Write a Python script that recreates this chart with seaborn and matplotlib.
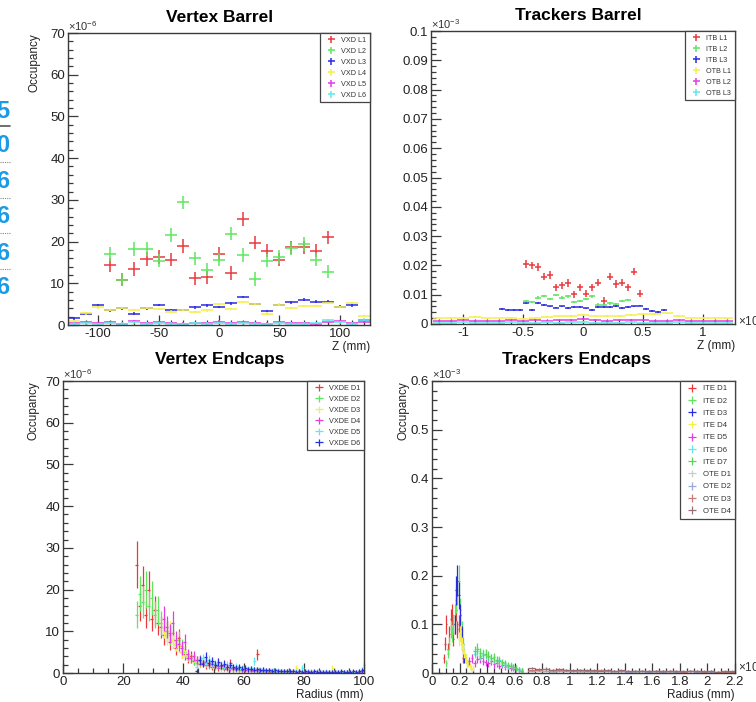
import numpy as np
import pandas as pd
import matplotlib
matplotlib.use("Agg")
import matplotlib.pyplot as plt
from matplotlib.lines import Line2D
from matplotlib.ticker import MultipleLocator, FuncFormatter
import seaborn as sns

# ---------------- Vertex barrel: occupancy (x1e-6) vs z (mm) ----------------
vxd_z_inner = [-90, -80, -70, -60, -50, -40, -30, -20, -10, 0, 10, 20, 30, 40, 50, 60, 70, 80, 90]
vxd_z_outer = [-120, -110, -100, -90, -80, -70, -60, -50, -40, -30, -20, -10, 0,
               10, 20, 30, 40, 50, 60, 70, 80, 90, 100, 110, 120]
vxd_l1 = [14.4, 10.9, 13.4, 15.8, 16.3, 15.7, 18.9, 11.2, 11.4, 17.0,
          12.5, 25.4, 19.7, 17.8, 15.7, 18.6, 18.6, 17.8, 21.0]
vxd_l2 = [17.0, 10.9, 18.2, 18.2, 15.4, 21.6, 29.4, 16.0, 13.3, 15.7,
          21.9, 16.8, 11.0, 15.4, 16.3, 18.4, 19.4, 15.7, 12.8]
vxd_l3 = [1.6, 2.7, 4.8, 3.5, 4.0, 2.7, 4.0, 4.8, 3.6, 3.6, 4.2, 4.7, 4.3,
          5.2, 6.7, 5.0, 3.3, 4.8, 5.4, 6.1, 5.6, 5.6, 4.4, 4.7, 1.2]
vxd_l4 = [0.9, 2.8, 4.2, 3.6, 4.1, 3.6, 4.1, 3.8, 3.2, 3.6, 3.1, 3.5, 5.0,
          3.8, 5.5, 5.0, 2.7, 4.9, 4.1, 4.6, 4.6, 5.3, 4.3, 5.3, 2.2]
vxd_l5 = [0.5, 0.6, 0.4, 0.7, 0.3, 0.9, 0.4, 0.6, 0.5, 0.3, 0.5, 0.4, 0.8,
          0.5, 0.7, 0.4, 0.3, 0.6, 0.5, 0.4, 0.3, 0.7, 0.9, 0.4, 0.8]
vxd_l6 = [0.3, 0.4, 0.2, 0.5, 0.3, 0.6, 0.3, 0.4, 0.3, 0.2, 0.4, 0.3, 0.5,
          0.3, 0.4, 0.3, 0.2, 0.4, 0.3, 0.3, 0.5, 1.1, 0.6, 0.3, 1.3]
vxd_labels = ["VXD L1", "VXD L2", "VXD L3", "VXD L4", "VXD L5", "VXD L6"]

# ---------------- Trackers barrel: occupancy (x1e-3) vs z (x1e3 mm) ----------------
itb_z_l1 = [-0.475, -0.425, -0.375, -0.325, -0.275, -0.225, -0.175, -0.125, -0.075, -0.025,
            0.025, 0.075, 0.125, 0.175, 0.225, 0.275, 0.325, 0.375, 0.425, 0.475]
itb_l1 = [0.0205, 0.0200, 0.0195, 0.0162, 0.0167, 0.0125, 0.0132, 0.0139, 0.0101, 0.0125,
          0.0104, 0.0125, 0.0141, 0.0078, 0.0162, 0.0136, 0.0141, 0.0125, 0.0179, 0.0104]
itb_z_l2 = [-0.475, -0.425, -0.375, -0.325, -0.275, -0.225, -0.175, -0.125, -0.075,
            -0.025, 0.025, 0.075, 0.125, 0.175, 0.225, 0.275, 0.325, 0.375]
itb_l2 = [0.0077, 0.0076, 0.0090, 0.0095, 0.0085, 0.0100, 0.0090, 0.0094, 0.0074,
          0.0078, 0.0086, 0.0094, 0.0066, 0.0064, 0.0070, 0.0068, 0.0078, 0.0081]
itb_z_l3 = [-0.675, -0.625, -0.575, -0.525, -0.475, -0.425, -0.375, -0.325, -0.275, -0.225,
            -0.175, -0.125, -0.075, -0.025, 0.025, 0.075, 0.125, 0.175, 0.225, 0.275,
            0.325, 0.375, 0.425, 0.475, 0.525, 0.575, 0.625, 0.675]
itb_l3 = [0.0050, 0.0049, 0.0048, 0.0047, 0.0070, 0.0047, 0.0072, 0.0066, 0.0060, 0.0056,
          0.0060, 0.0055, 0.0057, 0.0058, 0.0053, 0.0048, 0.0057, 0.0058, 0.0057, 0.0061,
          0.0055, 0.0058, 0.0060, 0.0063, 0.0050, 0.0045, 0.0042, 0.0048]
otb_z = [-1.2, -1.1, -1.0, -0.9, -0.8, -0.7, -0.6, -0.5, -0.4, -0.3, -0.2, -0.1, 0.0,
         0.1, 0.2, 0.3, 0.4, 0.5, 0.6, 0.7, 0.8, 0.9, 1.0, 1.1, 1.2]
otb_l1 = [0.0022, 0.0020, 0.0021, 0.0023, 0.0019, 0.0022, 0.0021, 0.0016, 0.0021, 0.0025,
          0.0026, 0.0027, 0.0030, 0.0029, 0.0027, 0.0028, 0.0030, 0.0033, 0.0034, 0.0036,
          0.0026, 0.0022, 0.0021, 0.0020, 0.0019]
otb_l2 = [0.0011, 0.0010, 0.0012, 0.0009, 0.0011, 0.0010, 0.0012, 0.0011, 0.0013, 0.0010,
          0.0012, 0.0014, 0.0016, 0.0013, 0.0011, 0.0012, 0.0013, 0.0012, 0.0011, 0.0010,
          0.0012, 0.0011, 0.0009, 0.0010, 0.0011]
otb_l3 = [0.0005, 0.0004, 0.0006, 0.0005, 0.0004, 0.0005, 0.0006, 0.0005, 0.0004, 0.0006,
          0.0005, 0.0007, 0.0006, 0.0005, 0.0004, 0.0005, 0.0006, 0.0005, 0.0004, 0.0005,
          0.0006, 0.0005, 0.0004, 0.0005, 0.0004]
tb_labels = ["ITB L1", "ITB L2", "ITB L3", "OTB L1", "OTB L2", "OTB L3"]

# ---------------- Vertex endcaps: occupancy (x1e-6) vs radius (mm), 1 mm bins ----------------
vxde_start = [24.0, 24.0, 33.0, 33.0, 44.0, 44.0]   # lower edge of the first filled bin
vxde_d1 = [26, 16, 21, 14, 20, 13, 15, 12, 11, 9, 10, 7.5, 8, 6, 8.5, 5, 4.5, 3.5, 4, 2.8,
           3, 2.2, 2.5, 1.8, 2.2, 1.5, 1.7, 1.2, 1.5, 1.0, 1.2, 2.4, 0.9, 1.0, 0.7, 0.8,
           0.6, 0.7, 0.5, 0.6, 4.5, 0.5, 0.4, 0.5, 0.3, 0.4]
vxde_d2 = [14, 19, 17, 20, 16, 18, 14, 15, 12, 11, 10, 9, 9.5, 7, 8, 6.5, 5, 4, 3.5, 3,
           2.5, 2.8, 2.2, 2.4, 1.8, 2.0, 1.5, 1.6, 1.2, 1.4, 1.1, 1.0, 1.2, 0.9, 0.8, 1.0,
           0.7, 0.8, 0.6, 0.7, 0.5, 0.6, 0.5, 0.4, 0.5, 0.4, 0.3, 0.4, 0.3, 0.35, 0.3]
vxde_d3 = [11, 9, 10, 8, 7, 6.5, 5, 5.5, 4, 3.5, 3.8, 3, 2.6, 2.8, 2.2, 2.4, 2.0, 1.8, 1.9,
           1.5, 1.6, 1.3, 1.4, 1.1, 1.2, 1.0, 1.1, 0.9, 0.8, 0.9, 0.7, 0.8, 0.6, 0.7, 0.5,
           0.6, 0.5, 0.6, 0.4, 0.5, 0.4, 0.5, 0.4, 0.4, 1.2, 0.4, 0.3, 0.4, 0.3, 0.4, 0.3,
           0.3, 0.4, 0.3, 0.3, 0.3, 1.3, 0.3, 0.3, 0.2, 0.3, 0.3, 0.2, 0.3, 0.2, 0.3, 0.5]
vxde_d4 = [13, 11, 9.5, 12, 8, 7, 6, 7.5, 4.5, 3.5, 4, 3, 3.2, 2.5, 2.7, 2.0, 2.2, 1.8, 1.6,
           1.7, 1.3, 1.5, 1.2, 1.1, 1.0, 1.1, 0.9, 0.8, 0.9, 0.7, 0.8, 0.6, 0.7, 0.6, 0.5,
           0.6, 0.5, 0.4, 0.5, 0.4, 0.5, 0.4, 0.3, 0.4, 0.3, 0.4, 0.3, 0.3, 0.4, 0.3, 0.3,
           0.2, 0.3, 0.3, 0.2, 0.3, 0.3, 0.2, 0.3, 0.2, 0.3, 0.2, 0.3, 0.2, 0.3, 0.2, 0.4]
vxde_d5 = [1.5, 3.0, 3.5, 2.8, 3.2, 2.6, 2.2, 2.5, 2.0, 1.8, 2.0, 1.6, 1.5, 1.6, 1.3, 1.2,
           1.3, 1.0, 1.1, 2.8, 0.9, 0.8, 0.9, 0.7, 0.6, 0.7, 0.5, 0.6, 0.5, 0.5, 0.4, 0.5,
           0.4, 0.4, 0.5, 1.2, 0.4, 0.3, 0.4, 0.3, 0.4, 0.3, 0.3, 0.4, 0.3, 0.3, 0.4, 0.3,
           0.2, 0.3, 0.3, 0.2, 0.3, 0.3, 0.4, 0.8]
vxde_d6 = [0.5, 3.0, 2.2, 3.8, 2.5, 2.9, 2.0, 2.6, 1.8, 2.2, 1.5, 1.9, 1.4, 1.2, 1.5, 1.0,
           1.2, 0.9, 1.0, 0.8, 0.9, 0.7, 0.8, 0.6, 0.7, 0.5, 0.6, 0.5, 0.4, 0.5, 0.4, 0.5,
           0.4, 0.3, 0.4, 0.3, 0.4, 0.3, 0.3, 0.4, 0.3, 0.3, 0.2, 0.3, 0.3, 0.2, 0.3, 0.3,
           0.4, 0.3, 0.2, 0.3, 0.4, 0.3, 0.5, 0.6]
vxde_labels = ["VXDE D1", "VXDE D2", "VXDE D3", "VXDE D4", "VXDE D5", "VXDE D6"]

# ---------------- Trackers endcaps: occupancy (x1e-3) vs radius (x1e3 mm) ----------------
ite_start = [0.08, 0.10, 0.16, 0.19, 0.26, 0.30, 0.30]
ite_bin = [0.01, 0.01, 0.01, 0.01, 0.02, 0.02, 0.02]
ite_d1 = [0.03, 0.06, 0.10, 0.05, 0.08, 0.11, 0.12, 0.07, 0.10, 0.13, 0.09, 0.10, 0.09, 0.06, 0.03]
ite_d2 = [0.02, 0.04, 0.06, 0.09, 0.08, 0.10, 0.12, 0.15, 0.17, 0.19, 0.13, 0.09, 0.06, 0.04, 0.03, 0.02]
ite_d3 = [0.10, 0.17, 0.19, 0.16, 0.12, 0.08, 0.05, 0.03]
ite_d4 = [0.07, 0.08, 0.06, 0.05, 0.04, 0.03, 0.02, 0.02, 0.015, 0.01, 0.01]
ite_d5 = [0.025, 0.030, 0.020, 0.028, 0.030, 0.025, 0.022, 0.020, 0.024, 0.018,
          0.020, 0.015, 0.017, 0.012, 0.014, 0.010, 0.009, 0.008, 0.006, 0.004]
ite_d6 = [0.040, 0.045, 0.035, 0.040, 0.038, 0.033, 0.030, 0.028, 0.025, 0.027,
          0.020, 0.018, 0.015, 0.016, 0.012, 0.010, 0.007, 0.005]
ite_d7 = [0.045, 0.050, 0.042, 0.038, 0.040, 0.035, 0.030, 0.032, 0.027, 0.025,
          0.022, 0.020, 0.017, 0.015, 0.012, 0.010, 0.008, 0.005]
ote_start = 0.70
ote_bin = 0.05
ote_d1 = [0.004, 0.005, 0.004, 0.003, 0.004, 0.005, 0.004, 0.003, 0.004, 0.003,
          0.004, 0.004, 0.003, 0.004, 0.003, 0.003, 0.004, 0.003, 0.003, 0.004,
          0.003, 0.003, 0.003, 0.004, 0.003, 0.003, 0.003, 0.002, 0.003, 0.003]
ote_d2 = [0.005, 0.006, 0.005, 0.004, 0.005, 0.005, 0.004, 0.005, 0.004, 0.004,
          0.005, 0.004, 0.004, 0.004, 0.003, 0.004, 0.004, 0.003, 0.004, 0.003,
          0.004, 0.003, 0.003, 0.004, 0.003, 0.003, 0.003, 0.003, 0.003, 0.003]
ote_d3 = [0.007, 0.006, 0.008, 0.006, 0.006, 0.007, 0.005, 0.006, 0.005, 0.005,
          0.006, 0.005, 0.005, 0.004, 0.005, 0.004, 0.005, 0.004, 0.004, 0.004,
          0.004, 0.004, 0.003, 0.004, 0.004, 0.003, 0.004, 0.003, 0.003, 0.003]
ote_d4 = [0.010, 0.008, 0.009, 0.007, 0.008, 0.007, 0.006, 0.007, 0.006, 0.006,
          0.005, 0.006, 0.005, 0.006, 0.005, 0.005, 0.005, 0.004, 0.005, 0.004,
          0.005, 0.004, 0.004, 0.005, 0.004, 0.004, 0.004, 0.003, 0.004, 0.004]
te_labels = ["ITE D1", "ITE D2", "ITE D3", "ITE D4", "ITE D5", "ITE D6", "ITE D7",
             "OTE D1", "OTE D2", "OTE D3", "OTE D4"]

# ROOT-like colour indices 2..7 and a few extras
root_cols = ["#e8383c", "#5ee65e", "#2a2ae0", "#f5ef4a", "#e23ce2", "#5fe8ee"]
ote_cols = ["#c6cec8", "#98a8d8", "#c97a7a", "#9c6f78"]
ite7_col = "#59d454"

sns.set_theme(style="ticks")
plt.rcParams["font.family"] = ["Liberation Sans", "DejaVu Sans"]
plt.rcParams["mathtext.default"] = "regular"
plt.rcParams["axes.unicode_minus"] = False

W, H = 756, 702
fig = plt.figure(figsize=(W / 100, H / 100), dpi=100)
fig.patch.set_facecolor("white")


def rect(l, t, r, b):
    return [l / W, 1 - b / H, (r - l) / W, (b - t) / H]


def style_axes(ax, xlim, ylim, xmaj, xmin, ymaj, ymin):
    ax.set_xlim(*xlim)
    ax.set_ylim(*ylim)
    ax.xaxis.set_major_locator(MultipleLocator(xmaj))
    ax.xaxis.set_minor_locator(MultipleLocator(xmin))
    ax.yaxis.set_major_locator(MultipleLocator(ymaj))
    ax.yaxis.set_minor_locator(MultipleLocator(ymin))
    f = FuncFormatter(lambda v, p: ("%g" % round(v, 6)))
    ax.xaxis.set_major_formatter(f)
    ax.yaxis.set_major_formatter(f)
    for s in ax.spines.values():
        s.set_visible(True)
        s.set_color("#3a3a3a")
        s.set_linewidth(1.0)
    ax.tick_params(which="both", direction="in", top=False, right=False,
                   color="#3a3a3a", labelcolor="#222222", labelsize=9.5, width=0.9, pad=2)
    ax.tick_params(which="major", length=7)
    ax.tick_params(which="minor", length=3.5)
    ax.set_facecolor("white")
    ax.grid(False)


def errcross(ax, x, y, xhalf, yerr, color, label, lw=1.1):
    ax.errorbar(x, y, xerr=xhalf, yerr=yerr, fmt="none", ecolor=color,
                elinewidth=lw, capsize=0, label=label)


def legend(ax, fs, spacing):
    lg = ax.legend(loc="upper right", bbox_to_anchor=(1.0, 1.0), borderaxespad=0.0,
                   fontsize=fs, frameon=True, fancybox=False, framealpha=1.0,
                   edgecolor="#444444", handlelength=2.2, handletextpad=0.3,
                   labelspacing=spacing, borderpad=0.5)
    lg.get_frame().set_linewidth(0.9)
    for t in lg.get_texts():
        t.set_color("#333333")
    return lg


def exponent_marks(ax, yexp, xexp=None, xexp_y=0.01):
    ax.text(0.0, 1.0, r"$\times10^{%d}$" % yexp, transform=ax.transAxes, ha="left",
            va="bottom", fontsize=8, color="#333333")
    if xexp is not None:
        ax.text(1.01, xexp_y, r"$\times10^{%d}$" % xexp, transform=ax.transAxes, ha="left",
                va="center", fontsize=8.5, color="#333333")


# ---------- Vertex Barrel ----------
ax1 = fig.add_axes(rect(68, 33, 370, 325))
style_axes(ax1, (-125, 125), (0, 70), 50, 10, 10, 2)
barrel_inner = pd.DataFrame({"z": vxd_z_inner, "L1": vxd_l1, "L2": vxd_l2})
barrel_outer = pd.DataFrame({"z": vxd_z_outer, "L3": vxd_l3, "L4": vxd_l4,
                             "L5": vxd_l5, "L6": vxd_l6})
errcross(ax1, barrel_inner.z, barrel_inner.L1, 5, 1.6, root_cols[0], vxd_labels[0])
errcross(ax1, barrel_inner.z, barrel_inner.L2, 5, 1.6, root_cols[1], vxd_labels[1])
for k, col in enumerate(["L3", "L4", "L5", "L6"]):
    errcross(ax1, barrel_outer.z, barrel_outer[col], 5, 0.3, root_cols[k + 2], vxd_labels[k + 2])
legend(ax1, 5.2, 0.55)
ax1.set_ylabel("Occupancy", loc="top", fontsize=8.5, color="#222222", labelpad=7)
ax1.set_xlabel("Z (mm)", loc="right", fontsize=8.5, color="#222222", labelpad=1)
exponent_marks(ax1, -6)

# ---------- Trackers Barrel ----------
ax2 = fig.add_axes(rect(431, 31, 735, 324))
style_axes(ax2, (-1.27, 1.27), (0, 0.1), 0.5, 0.1, 0.01, 0.002)
errcross(ax2, itb_z_l1, itb_l1, 0.025, 0.0013, root_cols[0], tb_labels[0])
errcross(ax2, itb_z_l2, itb_l2, 0.025, 0.0004, root_cols[1], tb_labels[1])
errcross(ax2, itb_z_l3, itb_l3, 0.025, 0.0003, root_cols[2], tb_labels[2])
errcross(ax2, otb_z, otb_l1, 0.05, 0.0003, root_cols[3], tb_labels[3])
errcross(ax2, otb_z, otb_l2, 0.05, 0.0003, root_cols[4], tb_labels[4])
errcross(ax2, otb_z, otb_l3, 0.05, 0.0003, root_cols[5], tb_labels[5])
legend(ax2, 5.2, 0.55)
ax2.set_xlabel("Z (mm)", loc="right", fontsize=8.5, color="#222222", labelpad=1)
exponent_marks(ax2, -3, 3, 0.01)

# ---------- Vertex Endcaps ----------
ax3 = fig.add_axes(rect(63, 381, 364, 673))
style_axes(ax3, (0, 100), (0, 70), 20, 5, 10, 2)
vxde_series = [vxde_d1, vxde_d2, vxde_d3, vxde_d4, vxde_d5, vxde_d6]
vxde_cols = [root_cols[0], root_cols[1], root_cols[3], root_cols[4], root_cols[5], root_cols[2]]
vxde_bin, vxde_rel, vxde_abs = 1.0, 0.2, 0.4
for vals, start, col, lab in zip(vxde_series, vxde_start, vxde_cols, vxde_labels):
    y = np.asarray(vals, float)
    r = start + vxde_bin * (np.arange(len(y)) + 0.5)
    errcross(ax3, r, y, vxde_bin / 2, vxde_rel * y + vxde_abs, col, lab, lw=0.9)
legend(ax3, 5.2, 0.55)
ax3.set_ylabel("Occupancy", loc="top", fontsize=8.5, color="#222222", labelpad=4)
ax3.set_xlabel("Radius (mm)", loc="right", fontsize=8.5, color="#222222", labelpad=1)
exponent_marks(ax3, -6)

# ---------- Trackers Endcaps ----------
ax4 = fig.add_axes(rect(432, 381, 735, 673))
style_axes(ax4, (0, 2.2), (0, 0.6), 0.2, 0.05, 0.1, 0.02)
ite_series = [ite_d1, ite_d2, ite_d3, ite_d4, ite_d5, ite_d6, ite_d7]
ite_cols = root_cols[:6] + [ite7_col]
te_rel, te_abs = 0.15, 0.004
for vals, start, b, col, lab in zip(ite_series, ite_start, ite_bin, ite_cols, te_labels[:7]):
    y = np.asarray(vals, float)
    r = start + b * (np.arange(len(y)) + 0.5)
    errcross(ax4, r, y, b / 2, te_rel * y + te_abs, col, lab, lw=0.9)
for vals, col, lab in zip([ote_d1, ote_d2, ote_d3, ote_d4], ote_cols, te_labels[7:]):
    y = np.asarray(vals, float)
    r = ote_start + ote_bin * (np.arange(len(y)) + 0.5)
    errcross(ax4, r, y, ote_bin / 2, te_rel * y + 0.001, col, lab, lw=0.9)
legend(ax4, 5.6, 0.62)
ax4.set_ylabel("Occupancy", loc="top", fontsize=8.5, color="#222222", labelpad=1)
ax4.set_xlabel("Radius (mm)", loc="right", fontsize=8.5, color="#222222", labelpad=1)
exponent_marks(ax4, -3, 3, 0.018)

# ---------- pad titles ----------
for txt, x, y in [("Vertex Barrel", 220, 17), ("Trackers Barrel", 578, 16),
                  ("Vertex Endcaps", 220, 360), ("Trackers Endcaps", 576, 360)]:
    fig.text(x / W, 1 - y / H, txt, ha="center", va="center", fontsize=12.5,
             fontweight="bold", color="black")

# ---------- neighbouring slide column at the left edge ----------
side_digits = ["5", "0", "6", "6", "6", "6"]
side_rows = [112, 145, 181, 217, 253, 288]
for d, yy in zip(side_digits, side_rows):
    fig.text(9 / W, 1 - yy / H, d, ha="right", va="center", fontsize=17,
             fontweight="bold", color="#1b9be6")
fig.add_artist(Line2D([0, 10 / W], [1 - 126 / H] * 2, color="#555555", lw=1.2))
for yy in [162, 198, 233, 269]:
    fig.add_artist(Line2D([0, 10 / W], [1 - yy / H] * 2, color="#888888", lw=0.8,
                          linestyle=(0, (1, 1))))

fig.savefig("out.png", dpi=100, facecolor="white")
